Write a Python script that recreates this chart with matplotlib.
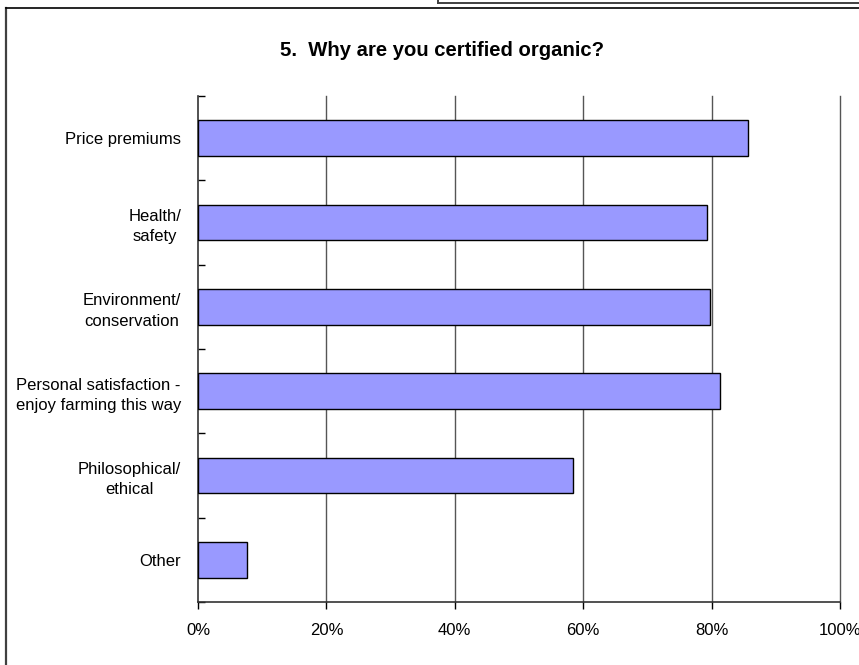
import matplotlib
matplotlib.use('Agg')
import matplotlib.pyplot as plt
from matplotlib.lines import Line2D

# datos de la grafica (porcentaje)
categorias = ['Price premiums', 'Health/\nsafety', 'Environment/\nconservation',
              'Personal satisfaction -\nenjoy farming this way',
              'Philosophical/\nethical', 'Other']
valores = [85.7, 79.3, 79.8, 81.3, 58.4, 7.6]
ticks_x = [0, 20, 40, 60, 80, 100]
etiquetas_x = ['0%', '20%', '40%', '60%', '80%', '100%']
titulo = '5.  Why are you certified organic?'

plt.rcParams['font.family'] = ['Liberation Sans', 'DejaVu Sans']

W, H = 859, 665
fig = plt.figure(figsize=(W / 100, H / 100), dpi=100)

def fx(px):
    return px / W

def fy(py):
    return 1 - py / H

ax = fig.add_axes([fx(198), fy(602), fx(840) - fx(198), fy(96) - fy(602)])

n = len(categorias)
pos = list(range(n))
ax.barh(pos, valores, height=0.42, color='#9999FF', edgecolor='black',
        linewidth=1.0, zorder=3)

ax.set_xlim(0, 100)
ax.set_ylim(n - 0.5, -0.5)

ax.set_xticks(ticks_x)
ax.set_xticklabels(etiquetas_x, fontsize=12)
ax.tick_params(axis='x', direction='out', length=5, width=1, pad=10, colors='black')

ax.set_yticks(pos)
ax.set_yticklabels(categorias, fontsize=12)
for lab in ax.get_yticklabels():
    lab.set_multialignment('center')
    lab.set_linespacing(1.45)
ax.tick_params(axis='y', which='major', length=0, pad=12)
ax.set_yticks([i - 0.5 for i in range(n + 1)], minor=True)
ax.tick_params(axis='y', which='minor', direction='in', length=5, width=1)

# lineas de division verticales
for t in ticks_x[1:]:
    ax.axvline(t, color='#555555', linewidth=1, zorder=0, clip_on=False)
for s in ['top', 'right']:
    ax.spines[s].set_visible(False)
for s in ['left', 'bottom']:
    ax.spines[s].set_color('#333333')
    ax.spines[s].set_linewidth(1.2)

fig.text(fx(442), fy(50), titulo, fontsize=14.6, fontweight='bold',
         ha='center', va='center')

# marco exterior del grafico
fig.add_artist(Line2D([fx(6), fx(6)], [fy(8), fy(670)], color='#404040', linewidth=1.6))
fig.add_artist(Line2D([fx(6), fx(870)], [fy(8), fy(8)], color='black', linewidth=1.2))
# caja superior
fig.add_artist(Line2D([fx(438), fx(870)], [fy(2.5), fy(2.5)], color='#404040', linewidth=1.4))
fig.add_artist(Line2D([fx(438), fx(438)], [fy(-5), fy(2.5)], color='#404040', linewidth=1.4))

fig.savefig('out.png', dpi=100)
